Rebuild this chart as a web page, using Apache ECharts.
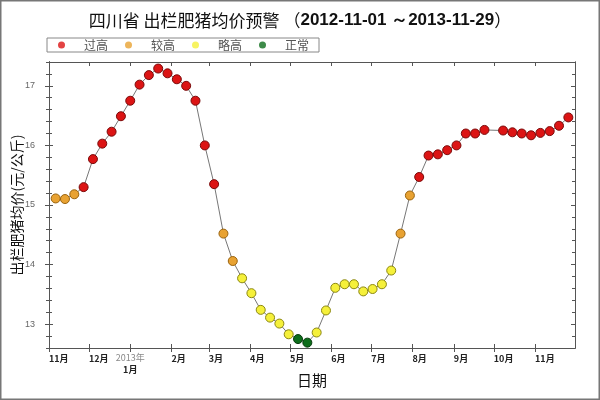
<!DOCTYPE html>
<html><head><meta charset="utf-8">
<script src="https://cdn.jsdelivr.net/npm/echarts@6/dist/echarts.min.js"></script>
<style>html,body{margin:0;padding:0;background:#fff}#c{width:600px;height:400px}</style>
</head><body><div id="c"></div>
<script>
// ---- data ----
const dates = [
  '2012-11-06','2012-11-13','2012-11-20','2012-11-27','2012-12-04','2012-12-11','2012-12-18','2012-12-25',
  '2013-01-01','2013-01-08','2013-01-15','2013-01-22','2013-01-29','2013-02-05','2013-02-12','2013-02-19',
  '2013-02-26','2013-03-05','2013-03-12','2013-03-19','2013-03-26','2013-04-02','2013-04-09','2013-04-16',
  '2013-04-23','2013-04-30','2013-05-07','2013-05-14','2013-05-21','2013-05-28','2013-06-04','2013-06-11',
  '2013-06-18','2013-06-25','2013-07-02','2013-07-09','2013-07-16','2013-07-23','2013-07-30','2013-08-06',
  '2013-08-13','2013-08-20','2013-08-27','2013-09-03','2013-09-10','2013-09-17','2013-09-24','2013-10-08',
  '2013-10-15','2013-10-22','2013-10-29','2013-11-05','2013-11-12','2013-11-19','2013-11-26'
];
const prices = [
  15.11,15.10,15.18,15.30,15.77,16.03,16.23,16.49,16.75,17.02,
  17.18,17.29,17.21,17.11,17.00,16.75,16.00,15.35,14.52,14.06,
  13.77,13.52,13.24,13.11,13.01,12.83,12.75,12.69,12.86,13.23,
  13.61,13.67,13.67,13.55,13.59,13.67,13.90,14.52,15.16,15.47,
  15.83,15.85,15.92,16.00,16.20,16.20,16.26,16.25,16.22,16.20,
  16.17,16.21,16.24,16.33,16.47
];
// 0 = 过高, 1 = 较高, 2 = 略高, 3 = 正常
const levels = [
  1,1,1,0,0,0,0,0,0,0,
  0,0,0,0,0,0,0,0,1,1,
  2,2,2,2,2,2,3,3,2,2,
  2,2,2,2,2,2,2,1,1,0,
  0,0,0,0,0,0,0,0,0,0,
  0,0,0,0,0
];
const levelNames = ['过高','较高','略高','正常'];
const monthTicks = ['2012-11-01','2012-12-01','2013-01-01','2013-02-01','2013-03-01','2013-04-01','2013-05-01',
  '2013-06-01','2013-07-01','2013-08-01','2013-09-01','2013-10-01','2013-11-01'];
const yearLabelTick = '2013-01-01';
const yMajorTicks = [13,14,15,16,17];
const xRange = ['2012-11-01','2013-12-01'];
const yRange = [12.6, 17.4];

// ---- styles ----
const fills = ['#dc1414','#e8a232','#f5f03a','#0e6e1c'];
const strokes = ['#7a0a0a','#9a6410','#8c8812','#063b0c'];
const axisColor = '#555';
const cjk = '"Noto Sans CJK SC", sans-serif';

// day offsets from the start of the x range (the axis is a day-count value axis)
const DAY = 86400000;
function utc(s){ const p = s.split('-').map(Number); return Date.UTC(p[0], p[1]-1, p[2]); }
const origin = utc(xRange[0]);
function day(s){ return Math.round((utc(s) - origin) / DAY); }
function dateOf(v){ return new Date(origin + Math.round(v) * DAY); }
const xMin = day(xRange[0]), xMax = day(xRange[1]);
const monthDays = monthTicks.map(day);
const janDay = day(yearLabelTick);
const monthLabelDays = monthDays.filter(t => t !== janDay);

function xAx(extra){
  return Object.assign({type:'value', gridIndex:0, min:xMin, max:xMax, splitLine:{show:false},
    axisLine:{show:true, onZero:false, lineStyle:{color:axisColor, width:1}},
    axisLabel:{show:false}, axisTick:{show:false}}, extra);
}
function yAx(extra){
  return Object.assign({type:'value', gridIndex:0, min:yRange[0], max:yRange[1], splitLine:{show:false},
    axisLine:{show:true, onZero:false, lineStyle:{color:axisColor, width:1}},
    axisLabel:{show:false}, axisTick:{show:false}}, extra);
}
const tickStyle = {color:axisColor, width:1};

const chart = echarts.init(document.getElementById('c'), null, {renderer:'canvas'});
chart.setOption({
  animation:false,
  backgroundColor:'#fff',
  title:{
    left:'center', top:7,
    text:'{a|四川省 出栏肥猪均价预警 （}{b|2012-11-01 ～2013-11-29}{a|）}',
    textStyle:{rich:{
      a:{fontFamily:cjk, fontSize:17, color:'#111', fontWeight:'normal'},
      b:{fontFamily:'"Liberation Sans", Arial, sans-serif', fontSize:17, color:'#111', fontWeight:'bold'}
    }}
  },
  legend:{
    left:47, top:38, orient:'horizontal',
    icon:'circle', itemWidth:25, itemHeight:7, itemGap:17,
    borderColor:'#888', borderWidth:1, padding:[1,10,1,11],
    textStyle:{fontFamily:cjk, fontSize:12, color:'#555', padding:[0,0,0,5]},
    data:levelNames, selectedMode:false
  },
  grid:{left:49, right:25, top:62, bottom:52, containLabel:false, outerBoundsMode:'none'},
  xAxis:[
    xAx({position:'bottom',
      name:'日期', nameLocation:'middle', nameGap:25, nameMoveOverlap:false,
      nameTextStyle:{fontFamily:cjk, fontSize:15, color:'#111'},
      axisTick:{show:true, inside:true, length:4, customValues:monthDays, lineStyle:tickStyle},
      axisLabel:{show:true, customValues:monthLabelDays, align:'left', margin:6,
        fontFamily:cjk, fontSize:9, fontWeight:'bold', color:'#222',
        formatter:v => (dateOf(v).getUTCMonth()+1) + '月'}}),
    xAx({position:'bottom',
      axisTick:{show:true, inside:false, length:4, customValues:monthDays, lineStyle:tickStyle},
      axisLabel:{show:true, customValues:[janDay], align:'center', margin:4,
        formatter:v => '{y|' + dateOf(v).getUTCFullYear() + '年}\n{m|' + (dateOf(v).getUTCMonth()+1) + '月}',
        rich:{
          y:{fontFamily:cjk, fontSize:9, color:'#888', lineHeight:12},
          m:{fontFamily:cjk, fontSize:9, fontWeight:'bold', color:'#222', lineHeight:12}
        }}}),
    xAx({position:'top',
      axisTick:{show:true, inside:true, length:4, customValues:monthDays, lineStyle:tickStyle}})
  ],
  yAxis:[
    yAx({position:'left',
      name:'出栏肥猪均价(元/公斤)', nameLocation:'middle', nameGap:25, nameRotate:90, nameMoveOverlap:false,
      nameTextStyle:{fontFamily:cjk, fontSize:14, color:'#111'},
      axisTick:{show:true, inside:true, length:4, customValues:yMajorTicks, lineStyle:tickStyle},
      axisLabel:{show:true, customValues:yMajorTicks, margin:14,
        fontFamily:'"Liberation Sans", Arial, sans-serif', fontSize:9, color:'#666'}}),
    yAx({position:'left',
      axisTick:{show:true, inside:false, length:4, customValues:yMajorTicks, lineStyle:tickStyle}}),
    yAx({position:'left', interval:0.2,
      axisTick:{show:true, inside:true, length:3, lineStyle:tickStyle}}),
    yAx({position:'left', interval:0.2,
      axisTick:{show:true, inside:false, length:3, lineStyle:tickStyle}}),
    yAx({position:'right',
      axisTick:{show:true, inside:true, length:4, customValues:yMajorTicks, lineStyle:tickStyle}}),
    yAx({position:'right', interval:0.2,
      axisTick:{show:true, inside:true, length:3, lineStyle:tickStyle}})
  ],
  series:[
    {
      type:'line', xAxisIndex:0, yAxisIndex:0, z:3,
      symbol:'circle', symbolSize:9, showAllSymbol:true,
      lineStyle:{color:'#777', width:1},
      itemStyle:{borderWidth:1},
      emphasis:{disabled:true},
      data:dates.map((d,i) => ({
        value:[day(d), prices[i]],
        itemStyle:{color:fills[levels[i]], borderColor:strokes[levels[i]], borderWidth:1}
      }))
    }
  ].concat(levelNames.map((n,i) => ({
    name:n, type:'scatter', xAxisIndex:0, yAxisIndex:0, data:[],
    itemStyle:{color:fills[i]}
  }))),
  graphic:[{
    type:'rect', shape:{x:0.5, y:0.5, width:599, height:399},
    style:{fill:'none', stroke:'#777', lineWidth:2}, silent:true, z:100
  }]
});
</script>
</body></html>
